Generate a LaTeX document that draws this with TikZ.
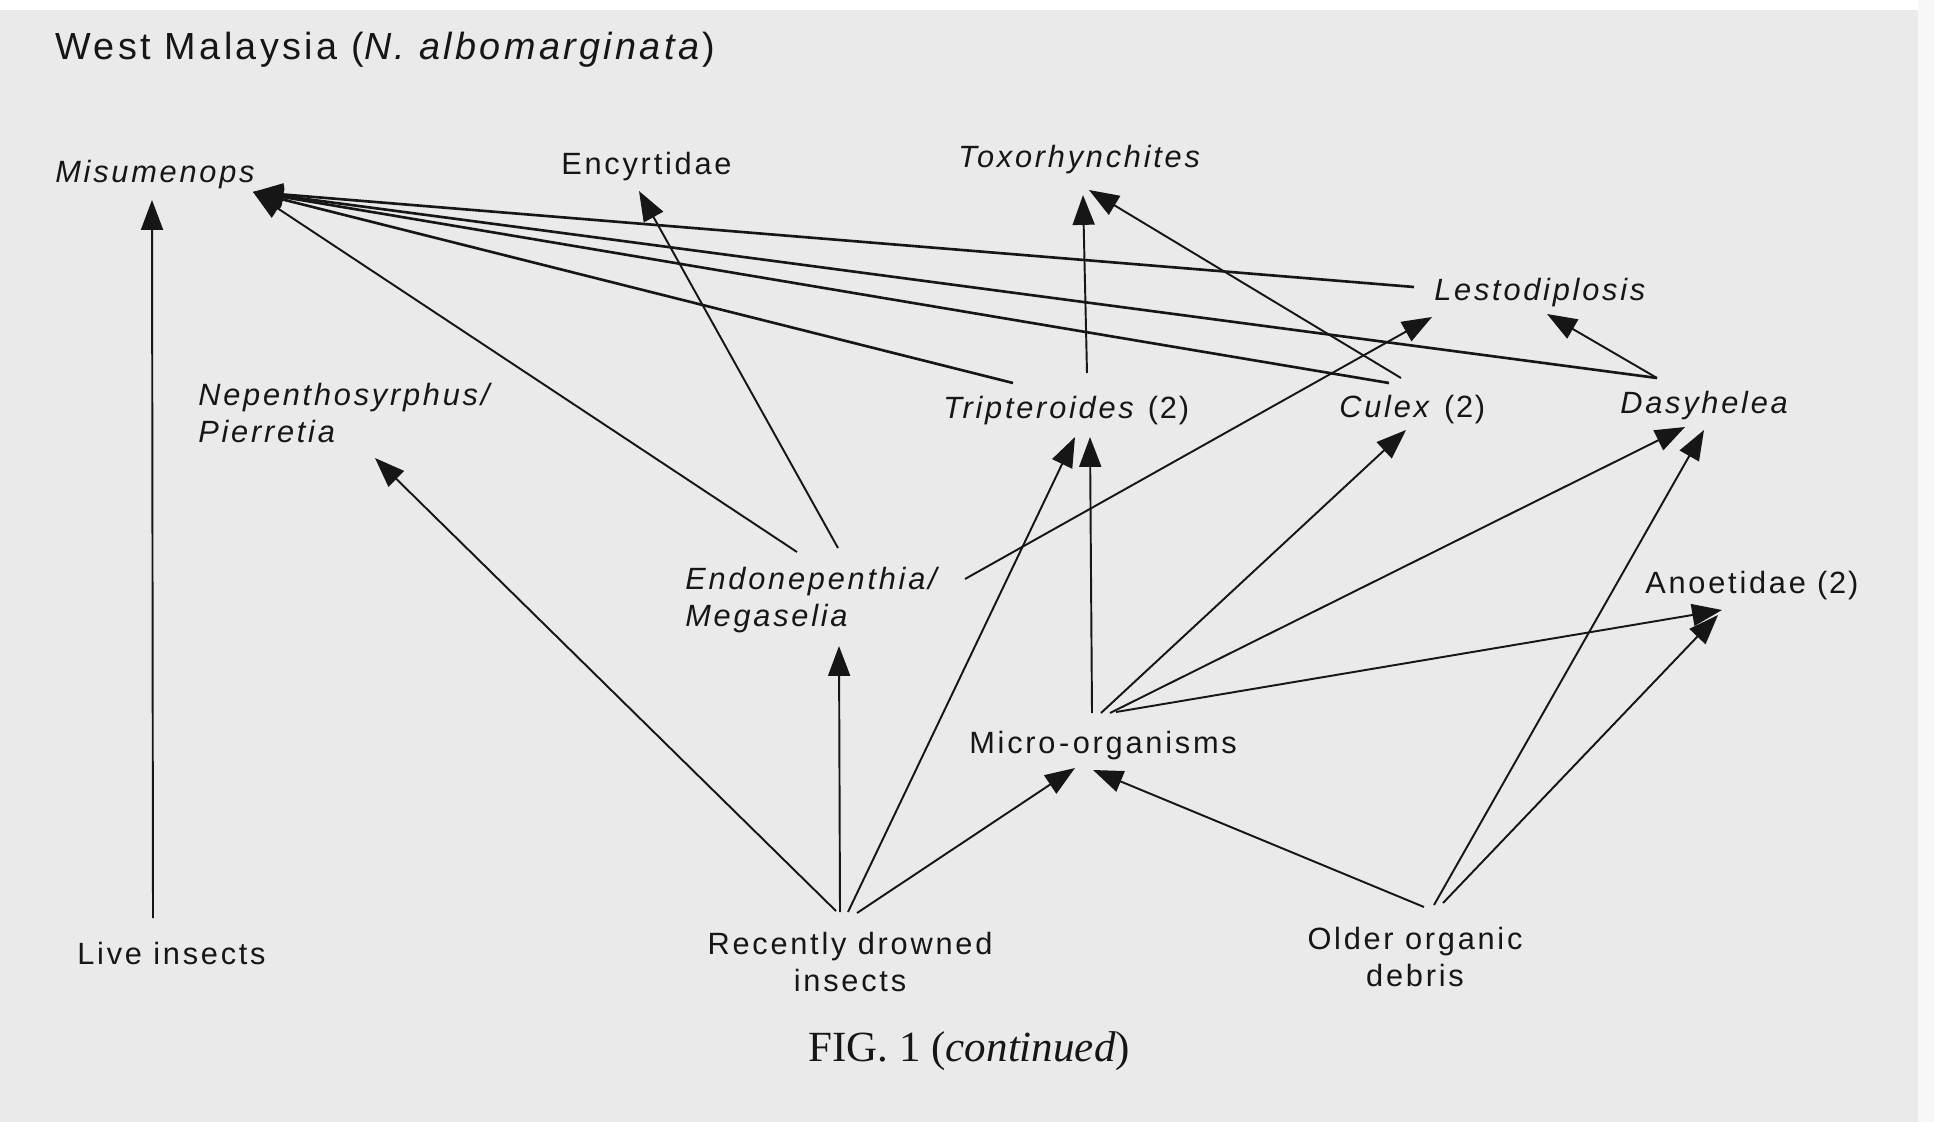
\documentclass[tikz,border=0pt]{standalone}
\usepackage{fontspec}
\setmainfont{Liberation Serif}
\newfontfamily\labfont[LetterSpace=9]{Liberation Sans}
\usetikzlibrary{arrows.meta}
\definecolor{paper}{RGB}{234,234,234}
\definecolor{ink}{RGB}{22,22,22}
\tikzset{
  lab/.style={font=\labfont\fontsize{17.5}{21}\selectfont, text=ink, inner sep=0pt, anchor=base west},
  sp/.style={lab, font=\labfont\fontsize{17.5}{21}\selectfont\itshape},
  link/.style={draw=ink, line width=1.1pt, -{Triangle[length=17pt,width=12.5pt]}},
  heavy/.style={link, line width=1.5pt}
}
\begin{document}
\begin{tikzpicture}[x=0.02cm,y=-0.02cm]
\useasboundingbox (0,0) rectangle (1934,1122);
% paper
\fill[paper] (0,0) rectangle (1934,1122);
\fill[white] (0,0) rectangle (1934,10);
\fill[white!60!paper] (1918,0) rectangle (1934,1122);

% labels
\node[lab, font=\labfont\fontsize{21.5}{26}\selectfont] (title) at (55,60) {West Malaysia (\textit{N. albomarginata})};
\node[sp] (mis) at (55,182) {Misumenops};
\node[lab] (enc) at (561,174) {Encyrtidae};
\node[sp] (tox) at (958,168) {Toxorhynchites};
\node[sp] (les) at (1434,300) {Lestodiplosis};
\node[sp, align=left, anchor=north west] (nep) at (198,383) {Nepenthosyrphus/\\Pierretia};
\node[sp] (tri) at (943,418) {Tripteroides \textup{(\kern1pt2\kern1pt)}};
\node[sp] (cul) at (1339,417) {Culex \textup{(\kern1pt2\kern1pt)}};
\node[sp] (das) at (1620,413) {Dasyhelea};
\node[sp, align=left, anchor=north west] (endo) at (685,567) {Endonepenthia/\\Megaselia};
\node[lab] (ano) at (1645,593) {Anoetidae (\kern1pt2\kern1pt)};
\node[lab] (mic) at (969,753) {Micro\kern2pt-\kern2pt organisms};
\node[lab] (live) at (77,964) {Live insects};
\node[lab, align=center, anchor=north] (rec) at (850,932) {Recently drowned\\insects};
\node[lab, align=center, anchor=north] (old) at (1415,927) {Older organic\\debris};
\node[font=\fontsize{24.5}{28}\selectfont, text=ink, inner sep=0pt, anchor=base west] (fig) at (808,1061) {FIG. 1 (\textit{continued})};

% connector end points
\coordinate (misTip) at (253,192);
\coordinate (misBot) at (152,200);
\coordinate (liveTop) at (153,918);
\coordinate (encTip) at (639,191);
\coordinate (toxTipA) at (1083,195);
\coordinate (toxTipB) at (1089,190);
\coordinate (lesL) at (1414,287);
\coordinate (lesTipA) at (1432,317);
\coordinate (lesTipB) at (1547,314);
\coordinate (nepTip) at (375,458);
\coordinate (triTL) at (1013,383);
\coordinate (triT) at (1087,373);
\coordinate (triTipA) at (1075,437);
\coordinate (triTipB) at (1090,437);
\coordinate (culTL) at (1389,383);
\coordinate (culT) at (1401,378);
\coordinate (culTip) at (1406,430);
\coordinate (dasTL) at (1657,378);
\coordinate (dasTipA) at (1685,427);
\coordinate (dasTipB) at (1704,430);
\coordinate (endoTL) at (797,552);
\coordinate (endoT) at (838,548);
\coordinate (endoR) at (965,579);
\coordinate (endoTip) at (839,646);
\coordinate (anoTipA) at (1722,610);
\coordinate (anoTipB) at (1718,615);
\coordinate (micA) at (1092,713);
\coordinate (micB) at (1101,713);
\coordinate (micC) at (1110,713);
\coordinate (micD) at (1116,712);
\coordinate (micTipA) at (1075,768);
\coordinate (micTipB) at (1093,770);
\coordinate (recA) at (836,911);
\coordinate (recB) at (840,912);
\coordinate (recC) at (848,912);
\coordinate (recD) at (857,913);
\coordinate (oldA) at (1424,907);
\coordinate (oldB) at (1434,905);
\coordinate (oldC) at (1443,903);

% feeding links
\draw[link] (liveTop) -- (misBot);
\draw[heavy] (lesL) -- (misTip);
\draw[heavy] (dasTL) -- (misTip);
\draw[heavy] (culTL) -- (misTip);
\draw[heavy] (triTL) -- (misTip);
\draw[link] (endoTL) -- (misTip);
\draw[link] (endoT) -- (encTip);
\draw[link] (triT) -- (toxTipA);
\draw[link] (culT) -- (toxTipB);
\draw[link] (dasTL) -- (lesTipB);
\draw[link] (endoR) -- (lesTipA);
\draw[link] (recA) -- (nepTip);
\draw[link] (recB) -- (endoTip);
\draw[link] (recC) -- (triTipA);
\draw[link] (recD) -- (micTipA);
\draw[link] (micA) -- (triTipB);
\draw[link] (micB) -- (culTip);
\draw[link] (micC) -- (dasTipA);
\draw[link] (micD) -- (anoTipA);
\draw[link] (oldA) -- (micTipB);
\draw[link] (oldB) -- (dasTipB);
\draw[link] (oldC) -- (anoTipB);
\end{tikzpicture}
\end{document}
